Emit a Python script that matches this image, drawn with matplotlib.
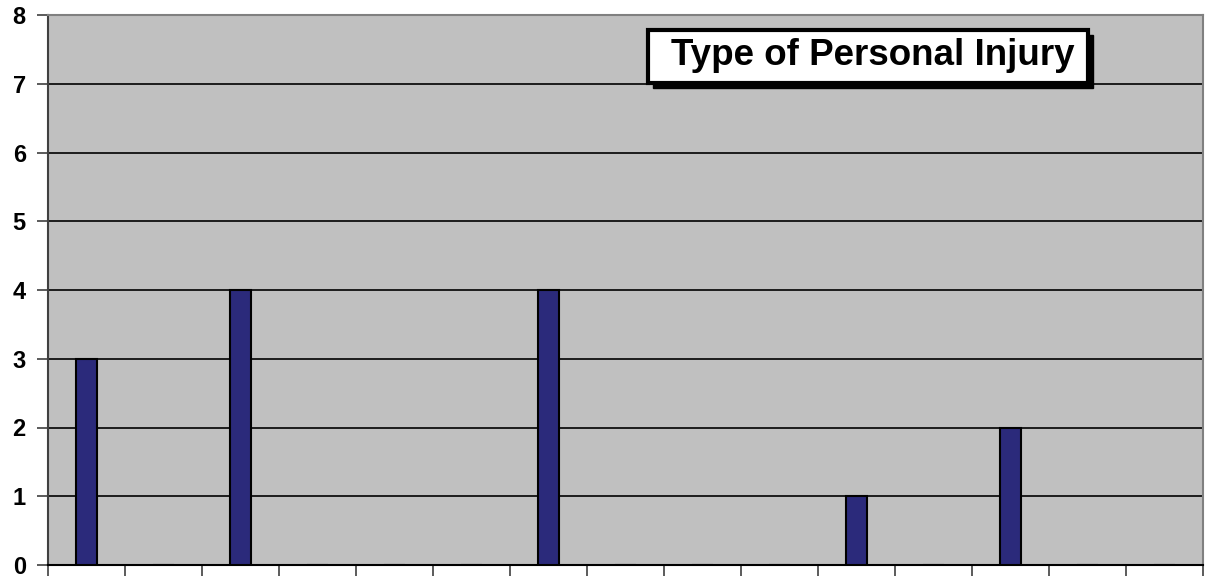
import matplotlib
matplotlib.use("Agg")
import matplotlib.pyplot as plt
import numpy as np

plt.rcParams['font.family'] = ['Liberation Sans', 'DejaVu Sans']

categories = list(range(15))
values = [3, 0, 4, 0, 0, 0, 4, 0, 0, 0, 1, 0, 2, 0, 0]
yticks = [0, 1, 2, 3, 4, 5, 6, 7, 8]
title = "Type of Personal Injury"

fig = plt.figure(figsize=(12.07, 5.79), dpi=100)
ax = fig.add_axes([48/1207, 14/579, (1203-48)/1207, (565-15)/579])
ax.set_facecolor('#c0c0c0')

x = np.arange(len(categories))
ax.bar(x, values, width=0.27, color='#2b2a7b', edgecolor='black', linewidth=1.5, zorder=3)

ax.set_xlim(-0.5, len(categories) - 0.5)
ax.set_ylim(0, 8)
ax.set_yticks(yticks)
ax.set_yticklabels([str(t) for t in yticks], fontsize=17, fontweight='bold')
ax.set_xticks(np.arange(len(categories) + 1) - 0.5)
ax.set_xticklabels([])
ax.tick_params(axis='y', length=8, width=1.2, color='#404040', pad=8)
ax.tick_params(axis='x', length=8, width=1.2, color='#404040')
ax.yaxis.grid(True, color='black', linewidth=1.2, zorder=1)
ax.set_axisbelow(True)

for s in ['top', 'right']:
    ax.spines[s].set_color('#808080')
    ax.spines[s].set_linewidth(1.5)
ax.spines['left'].set_color('#404040')
ax.spines['left'].set_linewidth(1.5)
ax.spines['bottom'].set_color('black')
ax.spines['bottom'].set_linewidth(1.5)

# title box with shadow
bx0, by0, bw, bh = 648/1207, 1 - 83/579, (1088-648)/1207, (83-30)/579
shadow = plt.Rectangle((bx0 + 5/1207, by0 - 5/579), bw, bh, transform=fig.transFigure,
                       facecolor='black', edgecolor='black', zorder=10)
box = plt.Rectangle((bx0, by0), bw, bh, transform=fig.transFigure,
                    facecolor='white', edgecolor='black', linewidth=3, zorder=11)
fig.patches.extend([shadow, box])
fig.text(bx0 + bw/2 + 5/1207, by0 + bh/2 + 1/579, title, ha='center', va='center',
         fontsize=26.5, fontweight='bold', zorder=12)

fig.savefig('out.png', dpi=100, facecolor='white')
